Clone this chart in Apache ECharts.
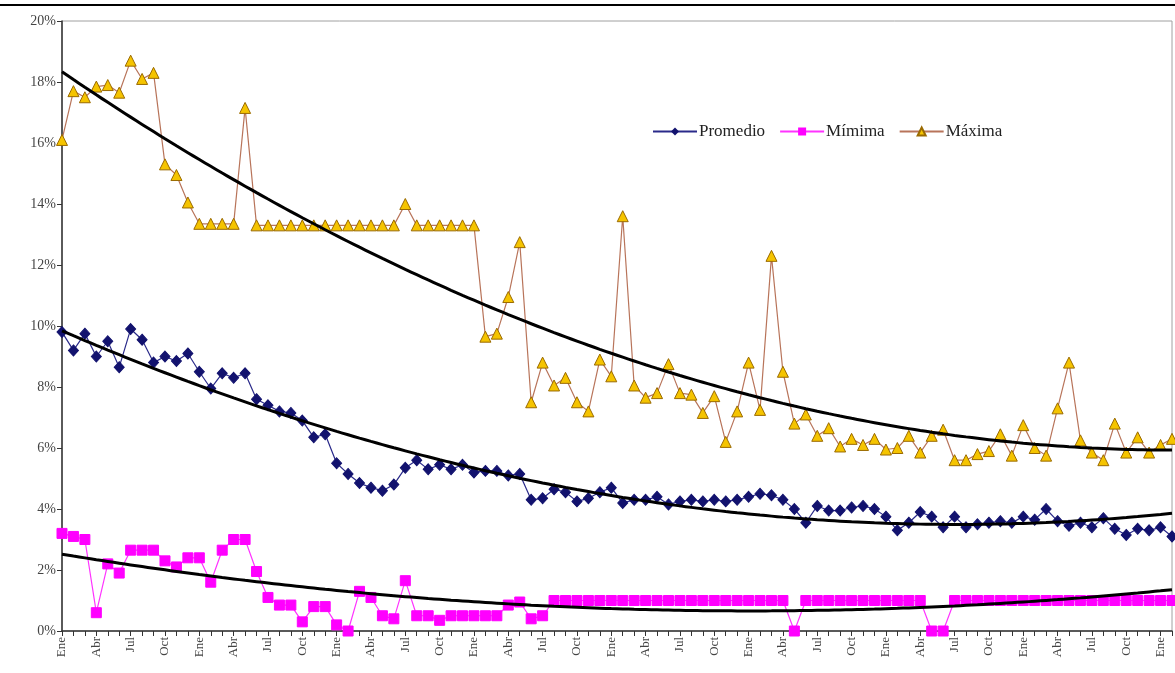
<!DOCTYPE html>
<html>
<head>
<meta charset="utf-8">
<script src="https://cdn.jsdelivr.net/npm/echarts@6/dist/echarts.min.js"></script>
<style>
  html, body { margin: 0; padding: 0; background: #ffffff; }
  #chart { width: 1175px; height: 673px; }
</style>
</head>
<body>
<div id="chart"></div>
<script>
// Month abbreviations for the category axis (98 months, Ene of year 1 to Feb of year 9)
const monthNames = ['Ene','Feb','Mar','Abr','May','Jun','Jul','Ago','Sep','Oct','Nov','Dic'];
const monthCount = 98;

// Y axis ticks, in percent
const yTicks = [0, 2, 4, 6, 8, 10, 12, 14, 16, 18, 20];

// Series names as shown in the legend
const seriesNames = ['Promedio', 'Mímima', 'Máxima'];

// Monthly average rate (%)
const promedio = [
  9.8, 9.2, 9.75, 9.0, 9.5, 8.65, 9.9, 9.55, 8.8, 9.0,
  8.85, 9.1, 8.5, 7.95, 8.45, 8.3, 8.45, 7.6, 7.4, 7.2,
  7.15, 6.9, 6.35, 6.45, 5.5, 5.15, 4.85, 4.7, 4.6, 4.8,
  5.35, 5.6, 5.3, 5.45, 5.3, 5.45, 5.2, 5.25, 5.25, 5.1,
  5.15, 4.3, 4.35, 4.65, 4.55, 4.25, 4.35, 4.55, 4.7, 4.2,
  4.3, 4.3, 4.4, 4.15, 4.25, 4.3, 4.25, 4.3, 4.25, 4.3,
  4.4, 4.5, 4.45, 4.3, 4.0, 3.55, 4.1, 3.95, 3.95, 4.05,
  4.1, 4.0, 3.75, 3.3, 3.55, 3.9, 3.75, 3.4, 3.75, 3.4,
  3.5, 3.55, 3.6, 3.55, 3.75, 3.65, 4.0, 3.6, 3.45, 3.55,
  3.4, 3.7, 3.35, 3.15, 3.35, 3.3, 3.4, 3.1
];

// Monthly minimum rate (%)
const minima = [
  3.2, 3.1, 3.0, 0.6, 2.2, 1.9, 2.65, 2.65, 2.65, 2.3,
  2.1, 2.4, 2.4, 1.6, 2.65, 3.0, 3.0, 1.95, 1.1, 0.85,
  0.85, 0.3, 0.8, 0.8, 0.2, 0.0, 1.3, 1.1, 0.5, 0.4,
  1.65, 0.5, 0.5, 0.35, 0.5, 0.5, 0.5, 0.5, 0.5, 0.85,
  0.95, 0.4, 0.5, 1.0, 1.0, 1.0, 1.0, 1.0, 1.0, 1.0,
  1.0, 1.0, 1.0, 1.0, 1.0, 1.0, 1.0, 1.0, 1.0, 1.0,
  1.0, 1.0, 1.0, 1.0, 0.0, 1.0, 1.0, 1.0, 1.0, 1.0,
  1.0, 1.0, 1.0, 1.0, 1.0, 1.0, 0.0, 0.0, 1.0, 1.0,
  1.0, 1.0, 1.0, 1.0, 1.0, 1.0, 1.0, 1.0, 1.0, 1.0,
  1.0, 1.0, 1.0, 1.0, 1.0, 1.0, 1.0, 1.0
];

// Monthly maximum rate (%)
const maxima = [
  16.1, 17.7, 17.5, 17.85, 17.9, 17.65, 18.7, 18.1, 18.3, 15.3,
  14.95, 14.05, 13.35, 13.35, 13.35, 13.35, 17.15, 13.3, 13.3, 13.3,
  13.3, 13.3, 13.3, 13.3, 13.3, 13.3, 13.3, 13.3, 13.3, 13.3,
  14.0, 13.3, 13.3, 13.3, 13.3, 13.3, 13.3, 9.65, 9.75, 10.95,
  12.75, 7.5, 8.8, 8.05, 8.3, 7.5, 7.2, 8.9, 8.35, 13.6,
  8.05, 7.65, 7.8, 8.75, 7.8, 7.75, 7.15, 7.7, 6.2, 7.2,
  8.8, 7.25, 12.3, 8.5, 6.8, 7.1, 6.4, 6.65, 6.05, 6.3,
  6.1, 6.3, 5.95, 6.0, 6.4, 5.85, 6.4, 6.6, 5.6, 5.6,
  5.8, 5.9, 6.45, 5.75, 6.75, 6.0, 5.75, 7.3, 8.8, 6.25,
  5.85, 5.6, 6.8, 5.85, 6.35, 5.85, 6.1, 6.3
];

const categories = [];
for (let i = 0; i < monthCount; i++) categories.push(monthNames[i % 12]);

// Second-order polynomial trend (least squares) evaluated at every month
function quadTrend(values) {
  const n = values.length;
  let s0 = n, s1 = 0, s2 = 0, s3 = 0, s4 = 0, t0 = 0, t1 = 0, t2 = 0;
  for (let i = 0; i < n; i++) {
    const x = i + 1, y = values[i];
    s1 += x; s2 += x * x; s3 += x * x * x; s4 += x * x * x * x;
    t0 += y; t1 += x * y; t2 += x * x * y;
  }
  // Solve the 3x3 normal equations by Cramer's rule
  const det = (m) => m[0][0]*(m[1][1]*m[2][2]-m[1][2]*m[2][1])
                   - m[0][1]*(m[1][0]*m[2][2]-m[1][2]*m[2][0])
                   + m[0][2]*(m[1][0]*m[2][1]-m[1][1]*m[2][0]);
  const A = [[s0, s1, s2], [s1, s2, s3], [s2, s3, s4]];
  const B = [t0, t1, t2];
  const D = det(A);
  const coef = [0, 1, 2].map(k => {
    const M = A.map((row, r) => row.map((v, c) => (c === k ? B[r] : v)));
    return det(M) / D;
  });
  return values.map((_, i) => {
    const x = i + 1;
    return coef[0] + coef[1] * x + coef[2] * x * x;
  });
}

const serif = '"Liberation Serif", "DejaVu Serif", serif';

const trendStyle = {
  type: 'line',
  symbol: 'none',
  smooth: true,
  silent: true,
  lineStyle: { color: '#000000', width: 3 },
  z: 5
};

const chart = echarts.init(document.getElementById('chart'));
chart.setOption({
  backgroundColor: '#ffffff',
  animation: false,
  graphic: [{
    type: 'line',
    shape: { x1: 0, y1: 5, x2: 1175, y2: 5 },
    style: { stroke: '#000000', lineWidth: 2 }
  }],
  grid: {
    left: 62, top: 21, right: 3, bottom: 42,
    show: true, borderColor: '#a0a0a0', borderWidth: 1, backgroundColor: 'transparent'
  },
  legend: {
    data: seriesNames,
    left: 647, top: 118,
    itemWidth: 44, itemHeight: 10, itemGap: 14,
    textStyle: { fontFamily: serif, fontSize: 17, color: '#222222', padding: [0, 0, 0, -3] }
  },
  xAxis: {
    type: 'category',
    data: categories,
    boundaryGap: false,
    axisLine: { lineStyle: { color: '#333333', width: 1.5 } },
    axisTick: { interval: 0, length: 5, lineStyle: { color: '#333333' } },
    axisLabel: {
      interval: 2, rotate: 90, margin: 6,
      fontFamily: serif, fontSize: 13, color: '#444444'
    },
    splitLine: { show: false }
  },
  yAxis: {
    type: 'value',
    min: yTicks[0], max: yTicks[yTicks.length - 1], interval: 2,
    axisLine: { show: true, lineStyle: { color: '#333333', width: 1.5 } },
    axisTick: { show: true, length: 5, lineStyle: { color: '#333333' } },
    axisLabel: {
      formatter: '{value}%', margin: 6,
      fontFamily: serif, fontSize: 14, color: '#444444'
    },
    splitLine: { show: false }
  },
  series: [
    {
      name: seriesNames[0], type: 'line', data: promedio,
      symbol: 'diamond', symbolSize: [10, 11], showAllSymbol: true,
      lineStyle: { color: '#2a2a8a', width: 1.2 },
      itemStyle: { color: '#12126e', borderColor: '#12126e' },
      z: 3
    },
    {
      name: seriesNames[1], type: 'line', data: minima,
      symbol: 'rect', symbolSize: 10, showAllSymbol: true,
      lineStyle: { color: '#ff33ff', width: 1.2 },
      itemStyle: { color: '#ff00ff', borderColor: '#ff00ff' },
      z: 3
    },
    {
      name: seriesNames[2], type: 'line', data: maxima,
      symbol: 'triangle', symbolSize: 11, showAllSymbol: true,
      lineStyle: { color: '#b8745a', width: 1.2 },
      itemStyle: { color: '#f5c400', borderColor: '#9a6a00', borderWidth: 1 },
      z: 3
    },
    Object.assign({ name: 'tendPromedio', data: quadTrend(promedio) }, trendStyle),
    Object.assign({ name: 'tendMinima', data: quadTrend(minima) }, trendStyle),
    Object.assign({ name: 'tendMaxima', data: quadTrend(maxima) }, trendStyle)
  ]
});
</script>
</body>
</html>
